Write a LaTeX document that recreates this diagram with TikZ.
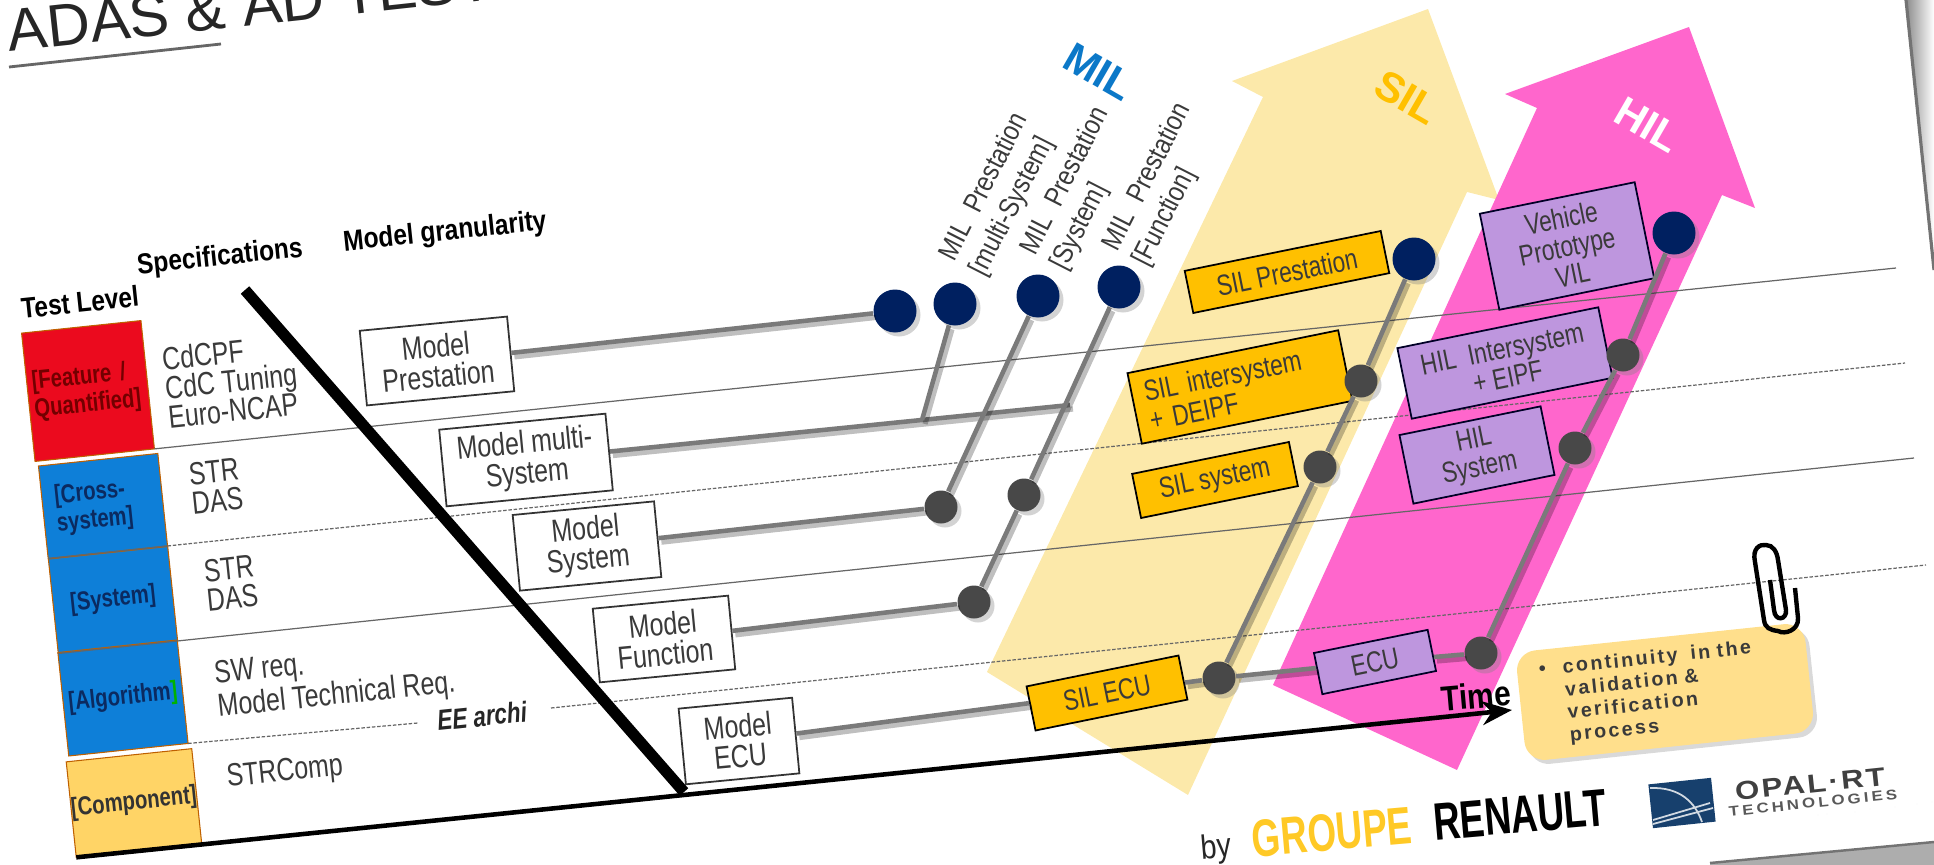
\documentclass[tikz,border=0pt]{standalone}
\usepackage{fontspec}
\setmainfont{Liberation Sans}
\newfontfamily\narrowfont[FakeStretch=0.78]{Liberation Sans}
\newfontfamily\headfont[FakeStretch=0.85]{Liberation Sans}
\newfontfamily\brandfont[FakeStretch=0.7]{Liberation Sans}
\newfontfamily\notefont[LetterSpace=12]{Liberation Sans}
\newfontfamily\opalfont[FakeStretch=1.2,LetterSpace=9]{Liberation Sans}
\newfontfamily\techfont[FakeStretch=1.2,LetterSpace=22]{Liberation Sans}
\usetikzlibrary{arrows.meta,shadows}

\definecolor{silpale}{HTML}{FCE9AA}
\definecolor{hilpink}{HTML}{FF66CC}
\definecolor{silbox}{HTML}{FFC000}
\definecolor{hilbox}{HTML}{BE96DE}
\definecolor{navydot}{HTML}{002060}
\definecolor{graydot}{HTML}{484848}
\definecolor{levelred}{HTML}{EB0A1E}
\definecolor{levelblue}{HTML}{0E7FD8}
\definecolor{levelyellow}{HTML}{FFD466}
\definecolor{noteyellow}{HTML}{FFDF8C}
\definecolor{txtgray}{HTML}{3A3A3A}
\definecolor{milblue}{HTML}{0B78C8}
\definecolor{logoblue}{HTML}{17406D}
\definecolor{levelink}{HTML}{0B2A60}

\tikzset{
  levelbox/.style={draw=orange!75!black,line width=0.3pt,minimum width=12mm,rotate=6,outer sep=0pt,inner sep=0pt,align=center,font=\fontsize{7.4}{6.4}\selectfont\narrowfont\bfseries},
  modelbox/.style={draw=black!80,fill=white,line width=0.5pt,rotate=5.5,align=center,inner sep=0pt,text=txtgray,font=\fontsize{9.1}{8.5}\selectfont\narrowfont},
  silnode/.style={modelbox,fill=silbox,draw=black,rotate=6,font=\fontsize{8.3}{8.5}\selectfont\narrowfont},
  hilnode/.style={modelbox,fill=hilbox,draw=black!85!blue,rotate=6,font=\fontsize{8.3}{8.2}\selectfont\narrowfont},
  spectext/.style={rotate=6,align=left,inner sep=0pt,text=txtgray,font=\fontsize{9.1}{8.3}\selectfont\narrowfont},
  headtext/.style={rotate=6,inner sep=0pt,font=\fontsize{8.2}{9}\selectfont\headfont\bfseries},
  miltext/.style={rotate=63,anchor=west,align=left,inner sep=0pt,text=txtgray,font=\fontsize{8}{9.5}\selectfont\headfont},
  looptext/.style={rotate=-30,inner sep=0pt,font=\fontsize{12}{12}\selectfont\bfseries},
  bigdot/.style={circle,fill=navydot,inner sep=0pt,minimum size=4.3mm,drop shadow={shadow xshift=0.4mm,shadow yshift=-0.4mm,opacity=0.35}},
  smalldot/.style={circle,fill=graydot,inner sep=0pt,minimum size=3.3mm,drop shadow={shadow xshift=0.4mm,shadow yshift=-0.4mm,opacity=0.35}},
  link/.style={draw=black!52,line width=1.3pt,preaction={draw=black,opacity=0.25,line width=1.5pt,transform canvas={xshift=0.3mm,yshift=-0.4mm}}},
  rowline/.style={draw=black!60,line width=0.35pt},
  rowdash/.style={draw=black!60,line width=0.35pt,dash pattern=on 1pt off 0.5pt},
}

\begin{document}
\begin{tikzpicture}[x=0.1mm,y=-0.1mm]
  \useasboundingbox (0,0) rectangle (1934,865);

  \shade[left color=black!45,right color=white] (1906,0) -- (1934,0) -- (1934,270) -- cycle;
  \draw[draw=black!55,line width=0.9pt] (1906,0) -- (1934,270);
  \fill[black!32] (1710,863) -- (1934,842) -- (1934,865) -- (1710,865) -- cycle;
  \draw[draw=black!55,line width=0.7pt] (1710,863) -- (1934,842);

  \fill[silpale] (1232,81) -- (1428,9) -- (1499,200) -- (1467,192) -- (1188,795) -- (987,672) -- (1263,97) -- cycle;
  \fill[hilpink] (1505,94) -- (1689,27) -- (1755,208) -- (1722,195) -- (1457,770) -- (1273,685) -- (1537,108) -- cycle;

  \node[anchor=base west,rotate=6.2,inner sep=0pt,text=black!85,font=\fontsize{17}{17}\selectfont] (title) at (9,52) {ADAS \& AD TEST};
  \coordinate (titlea) at (9,67);
  \coordinate (titleb) at (221,44);
  \draw[draw=black!60,line width=0.8pt] (titlea) -- (titleb);

  \node[levelbox,fill=levelred,minimum height=12.9mm,text=red!45!black,align=left,text width=11mm] (feature) at (88,391) {{[Feature /}\\{Quantified]}};
  \node[levelbox,fill=levelblue,minimum height=9.3mm,text=levelink,align=left,text width=9.5mm] (cross) at (103,506) {{[Cross-}\\{system]}};
  \node[levelbox,fill=levelblue,minimum height=9.5mm,text=levelink] (system) at (113,600) {{[System]}};
  \node[levelbox,fill=levelblue,minimum height=10.4mm,text=levelink] (algo) at (123,698) {{[Algorithm{\color{green!70!black}]}}};
  \node[levelbox,fill=levelyellow,minimum height=9.6mm,text=black!80] (component) at (134,803) {{[Component]}};

  \node[headtext] (testlevel) at (80,302) {Test Level};
  \node[headtext] (specs) at (220,258) {Specifications};
  \node[headtext] (granularity) at (445,233) {Model granularity};

  \node[spectext] (spec1) at (231,381) {CdCPF\\CdC Tuning\\Euro-NCAP};
  \node[spectext] (spec2) at (216,486) {STR\\DAS};
  \node[spectext] (spec3) at (231,583) {STR\\DAS};
  \node[spectext] (spec4) at (335,680) {SW req.\\Model Technical Req.};
  \node[spectext] (spec5) at (285,773) {STRComp};
  \node[rotate=6,inner sep=0pt,text=black!85,font=\fontsize{8.2}{9}\selectfont\narrowfont\bfseries\itshape] (eearchi) at (482,716) {EE archi};

  \coordinate (row1) at (1896,268);
  \coordinate (row2) at (1905,363);
  \coordinate (row3) at (1914,458);
  \coordinate (row4) at (1926,565);
  \coordinate (gapa) at (418,723);
  \coordinate (gapb) at (551,708);
  \draw[rowline] (feature.south east) -- (row1);
  \draw[rowdash] (cross.south east) -- (row2);
  \draw[rowline] (system.south east) -- (row3);
  \draw[rowdash] (algo.south east) -- (gapa);
  \draw[rowdash] (gapb) -- (row4);
  \draw[rowline] (cross.south west) -- (cross.south east);
  \draw[rowline] (system.south west) -- (system.south east);

  \coordinate (diaga) at (245,290);
  \coordinate (diagb) at (684,792);
  \coordinate (timetip) at (1512,710);
  \draw[line width=3.2pt] (diaga) -- (diagb);
  \draw[line width=1.3pt,-{Stealth[length=3mm,width=2.4mm]}] (component.south west) -- (timetip);

  \node[modelbox,minimum width=14.8mm,minimum height=7.5mm] (mpres) at (437,361) {Model\\Prestation};
  \node[modelbox,minimum width=16.7mm,minimum height=7.7mm] (mmulti) at (526,460) {Model multi-\\System};
  \node[modelbox,minimum width=14.2mm,minimum height=7.6mm] (msys) at (587,546) {Model\\System};
  \node[modelbox,minimum width=13.6mm,minimum height=7.4mm] (mfun) at (664,639) {Model\\Function};
  \node[modelbox,minimum width=11.4mm,minimum height=7.6mm] (mecu) at (739,741) {Model\\ECU};

  \node[bigdot] (dotpres) at (895,311) {};
  \node[bigdot] (dotmulti) at (955,304) {};
  \node[bigdot] (dotsys) at (1038,296) {};
  \node[bigdot] (dotfun) at (1119,287) {};
  \node[smalldot] (gsys) at (941,507) {};
  \node[smalldot] (gfuna) at (1024,495) {};
  \node[smalldot] (gfunb) at (974,602) {};
  \coordinate (multijoint) at (922,420);
  \coordinate (multiend) at (1070,405);

  \node[miltext] (milmulti) at (963,267) {MIL\ \ Prestation\\{[multi-System]}};
  \node[miltext] (milsys) at (1044,261) {MIL\ \ Prestation\\{[System]}};
  \node[miltext] (milfun) at (1126,257) {MIL\ \ Prestation\\{[Function]}};

  \node[looptext,text=milblue] (mil) at (1099,72) {MIL};
  \node[looptext,text=silbox] (sil) at (1407,97) {SIL};
  \node[looptext,text=white] (hil) at (1648,125) {HIL};

  \node[silnode,minimum width=20mm,minimum height=4.3mm] (silpres) at (1287,272) {SIL Prestation};
  \node[silnode,minimum width=21.5mm,minimum height=7.2mm,align=left,text width=19mm] (silint) at (1240,387) {SIL intersystem\\+ DEIPF};
  \node[silnode,minimum width=16mm,minimum height=4.5mm] (silsys) at (1215,480) {SIL system};
  \node[silnode,minimum width=15.5mm,minimum height=4.5mm] (silecu) at (1107,693) {SIL ECU};

  \node[hilnode,minimum width=15.8mm,minimum height=9.8mm] (hilveh) at (1567,246) {Vehicle\\Prototype\\VIL};
  \node[hilnode,minimum width=20.5mm,minimum height=7.2mm] (hilint) at (1505,363) {HIL\ \ Intersystem\\+ EIPF};
  \node[hilnode,minimum width=14.4mm,minimum height=7mm] (hilsys) at (1477,455) {HIL\\System};
  \node[hilnode,minimum width=11.6mm,minimum height=4.2mm] (hilecu) at (1375,662) {ECU};

  \node[bigdot] (siltop) at (1414,259) {};
  \node[smalldot] (silgint) at (1361,381) {};
  \node[smalldot] (silgsys) at (1320,467) {};
  \node[smalldot] (silgecu) at (1219,678) {};
  \node[bigdot] (hiltop) at (1674,233) {};
  \node[smalldot] (hilgint) at (1623,355) {};
  \node[smalldot] (hilgsys) at (1575,448) {};
  \node[smalldot] (hilgecu) at (1481,653) {};

  \draw[link] (mpres) -- (dotpres);
  \draw[link] (mmulti) -- (multiend);
  \draw[link] (dotmulti) -- (multijoint);
  \draw[link] (dotsys) -- (gsys);
  \draw[link] (dotfun) -- (gfuna);
  \draw[link] (gfuna) -- (gfunb);
  \draw[link] (msys) -- (gsys);
  \draw[link] (mfun) -- (gfunb);
  \draw[link] (mecu) -- (silecu);
  \draw[link] (silecu) -- (silgecu);
  \draw[link] (silgecu) -- (hilecu);
  \draw[link] (hilecu) -- (hilgecu);
  \draw[link] (silgecu) -- (silgsys);
  \draw[link] (silgsys) -- (silgint);
  \draw[link] (silgint) -- (siltop);
  \draw[link] (hilgecu) -- (hilgsys);
  \draw[link] (hilgsys) -- (hilgint);
  \draw[link] (hilgint) -- (hiltop);

  \node[rotate=5,inner sep=0pt,text=black,font=\fontsize{10}{10}\selectfont\headfont\bfseries] (time) at (1476,696) {Time};

  \node[rotate=6,rounded corners=2mm,fill=noteyellow,minimum width=29mm,minimum height=11mm,text width=24.6mm,inner xsep=2.2mm,inner ysep=0pt,align=left,text=txtgray,drop shadow={shadow xshift=0.4mm,shadow yshift=-0.4mm,opacity=0.3},font=\fontsize{5.6}{6.5}\selectfont\notefont\bfseries] (note) at (1665,692) {\makebox[2.4mm][l]{•}continuity\ \ in the\\\hspace*{2.4mm}validation \&\\\hspace*{2.4mm}verification\\\hspace*{2.4mm}process};
  \draw[line width=1.25pt] (1795,588) -- (1798,618) .. controls (1799,630) and (1785,635) .. (1778,631) .. controls (1770,630) and (1765,628) .. (1764,620) -- (1755,562) .. controls (1752,548) and (1760,544) .. (1766,545) .. controls (1773,545) and (1777,552) .. (1778,560) -- (1786,610) .. controls (1787,620) and (1775,622) .. (1774,610) -- (1770,580);

  \node[rotate=5,inner sep=0pt,text=black!85,font=\fontsize{9.6}{10}\selectfont\headfont] (by) at (1216,849) {by};
  \node[rotate=5,inner sep=0pt,text=silbox!85!white,font=\fontsize{15}{15}\selectfont\brandfont\bfseries] (groupe) at (1332,832) {GROUPE};
  \node[rotate=5,inner sep=0pt,text=black,font=\fontsize{15}{15}\selectfont\brandfont\bfseries] (renault) at (1520,815) {RENAULT};

  \node[rotate=6,fill=logoblue,minimum width=6.3mm,minimum height=4.4mm,inner sep=0pt] (logo) at (1682,803) {};
  \draw[white!80!logoblue,line width=0.5pt] (1650,788) .. controls (1680,787) and (1695,802) .. (1702,822);
  \draw[white!80!logoblue,line width=0.5pt] (1653,820) -- (1710,803);
  \draw[white!80!logoblue,line width=0.5pt] (1653,824) -- (1713,808);
  \node[rotate=6,inner sep=0pt,text=black!75,font=\fontsize{7.4}{7.4}\selectfont\opalfont\bfseries] (opal) at (1810,784) {OPAL·RT};
  \node[rotate=6,inner sep=0pt,text=black!65,font=\fontsize{4}{4.5}\selectfont\techfont\bfseries] (tech) at (1813,803) {TECHNOLOGIES};
  \foreach \px/\py in {1818/815,1827/814,1855/812,1870/809,1895/807,1917/804,1932/802}
    \fill[black!60] (\px,\py) circle (0.06);
\end{tikzpicture}
\end{document}
